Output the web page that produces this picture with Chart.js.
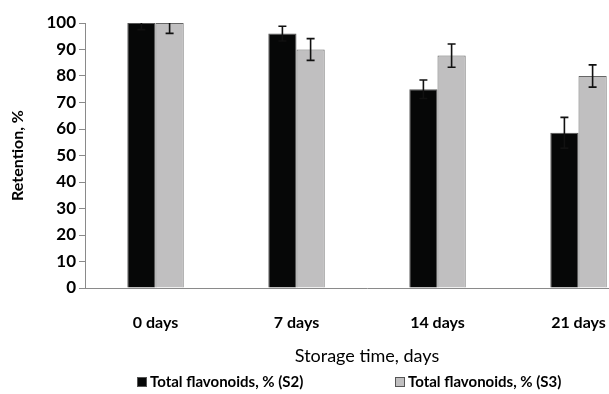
<!DOCTYPE html>
<html>
<head>
<meta charset="utf-8">
<script src="https://cdn.jsdelivr.net/npm/chart.js@4.4.1/dist/chart.umd.min.js"></script>
<style>
  html, body { margin: 0; padding: 0; background: #fff; overflow: hidden; }
  #wrap { width: 650px; height: 394px; }
</style>
</head>
<body>
<div id="wrap"><canvas id="chart" width="650" height="394"></canvas></div>
<script>
const categories = ["0 days", "7 days", "14 days", "21 days"];
const s2Values = [100, 96, 75, 58.6];
const s2Errors = [2.5, 2.8, 3.5, 5.8];
const s3Values = [100, 90, 87.7, 80];
const s3Errors = [3.9, 4.1, 4.4, 4.2];
const yTicks = [0, 10, 20, 30, 40, 50, 60, 70, 80, 90, 100];

const FONT = "Lato, 'Open Sans', sans-serif";

// error bars drawn on top of the bars, clipped to the plot area
const errorBars = {
  id: "errorBars",
  afterDatasetsDraw(chart) {
    const { ctx, chartArea, scales } = chart;
    const errs = [s2Errors, s3Errors];
    ctx.save();
    ctx.beginPath();
    ctx.rect(chartArea.left, chartArea.top, chartArea.right - chartArea.left, chartArea.bottom - chartArea.top);
    ctx.clip();
    ctx.strokeStyle = "#111";
    ctx.lineWidth = 1.6;
    chart.data.datasets.forEach((ds, i) => {
      chart.getDatasetMeta(i).data.forEach((bar, j) => {
        const v = ds.data[j];
        const hi = scales.y.getPixelForValue(v + errs[i][j]);
        const lo = scales.y.getPixelForValue(v - errs[i][j]);
        const x = bar.x;
        ctx.beginPath();
        ctx.moveTo(x, hi); ctx.lineTo(x, lo);
        ctx.moveTo(x - 4, hi); ctx.lineTo(x + 4, hi);
        ctx.moveTo(x - 4, lo); ctx.lineTo(x + 4, lo);
        ctx.stroke();
      });
    });
    ctx.restore();
  }
};

// legend row under the axis title
const bottomLegend = {
  id: "bottomLegend",
  afterDraw(chart) {
    const { ctx } = chart;
    const starts = [137, 395];
    ctx.save();
    ctx.font = "bold 15px " + FONT;
    ctx.textBaseline = "middle";
    chart.data.datasets.forEach((ds, i) => {
      const x = starts[i];
      const y = 382;
      ctx.fillStyle = ds.backgroundColor;
      ctx.strokeStyle = "#555";
      ctx.lineWidth = 1;
      ctx.fillRect(x, y - 5, 10, 10);
      ctx.strokeRect(x + 0.5, y - 4.5, 9, 9);
      ctx.fillStyle = "#000";
      ctx.fillText(ds.label, x + 13, y);
    });
    ctx.restore();
  }
};

new Chart(document.getElementById("chart"), {
  type: "bar",
  data: {
    labels: categories,
    datasets: [
      {
        label: "Total flavonoids, % (S2)",
        data: s2Values,
        backgroundColor: "#060707",
        borderColor: "#555",
        borderWidth: 1,
      },
      {
        label: "Total flavonoids, % (S3)",
        data: s3Values,
        backgroundColor: "#c0bfc0",
        borderColor: "#666",
        borderWidth: 1,
      },
    ],
  },
  options: {
    responsive: false,
    animation: false,
    categoryPercentage: 0.4,
    barPercentage: 1,
    layout: { padding: { top: 23, left: 0, right: 1, bottom: 0 } },
    plugins: { legend: { display: false }, tooltip: { enabled: false } },
    scales: {
      x: {
        afterFit: (s) => { s.height = 106; },
        grid: { display: false },
        border: { color: "#8a8a8a", width: 1 },
        ticks: { color: "#000", padding: 17, font: { family: FONT, size: 16, weight: "bold" } },
        title: {
          display: true,
          text: "Storage time, days",
          color: "#000",
          font: { family: FONT, size: 18, weight: "normal" },
          padding: { top: 0, bottom: 27 },
        },
      },
      y: {
        min: 0,
        max: 100,
        afterFit: (s) => { s.width = 85; },
        afterBuildTicks: (s) => { s.ticks = yTicks.map((v) => ({ value: v })); },
        grid: { display: true, drawOnChartArea: false, drawTicks: true, tickLength: 6, color: "#8a8a8a" },
        border: { color: "#8a8a8a", width: 1 },
        ticks: { color: "#000", padding: 3, font: { family: FONT, size: 17, weight: "bold" } },
        title: {
          display: true,
          text: "Retention, %",
          color: "#000",
          font: { family: FONT, size: 16, weight: "bold" },
          padding: { top: 8, bottom: 0 },
        },
      },
    },
  },
  plugins: [errorBars, bottomLegend],
});
</script>
</body>
</html>
